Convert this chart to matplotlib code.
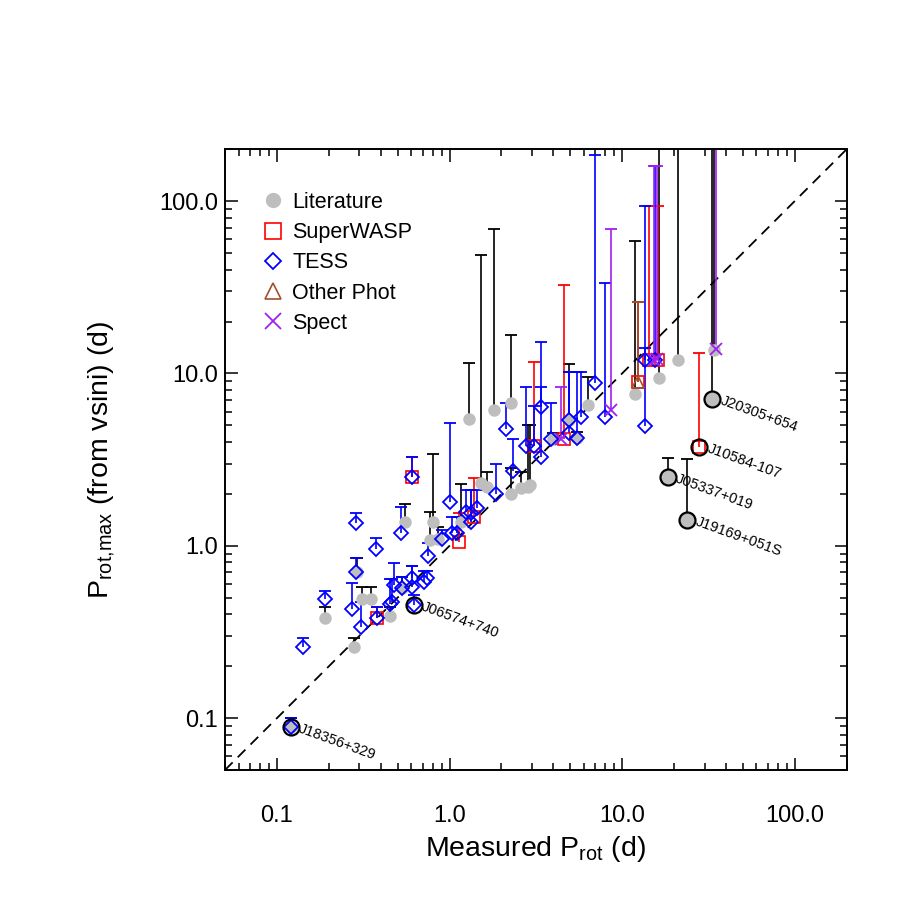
import matplotlib
matplotlib.use("Agg")
import matplotlib.pyplot as plt
from matplotlib.lines import Line2D
from matplotlib.ticker import FixedLocator, LogLocator, NullFormatter

plt.rcParams['font.family'] = ['Liberation Sans', 'DejaVu Sans']
plt.rcParams['mathtext.fontset'] = 'custom'
plt.rcParams['mathtext.rm'] = 'Liberation Sans'
plt.rcParams['mathtext.it'] = 'Liberation Sans'

# Literature: measured Prot, Prot,max, upper end of the limit bar
lit_x = [0.19, 0.28, 0.31, 0.35, 0.45, 0.29, 0.55, 0.53, 0.77, 0.80, 0.86, 1.17,
         1.29, 1.53, 1.64, 1.82, 2.26, 2.26, 2.58, 2.86, 2.92, 3.95, 4.9, 5.5,
         6.38, 11.8, 16.4, 21.2, 34.2, 0.12, 33.3, 18.5, 23.9]
lit_y = [0.38, 0.26, 0.49, 0.49, 0.39, 0.70, 1.38, 0.57, 1.08, 1.38, 1.10, 1.38,
         5.45, 2.32, 2.20, 6.14, 6.75, 2.00, 2.17, 2.20, 2.25, 4.17, 5.37, 4.20,
         6.57, 7.60, 9.40, 12.0, 13.7, 0.089, 7.10, 2.51, 1.42]
lit_up = [0.44, 0.29, 0.58, 0.58, 0.44, 0.85, 1.75, 0.66, 1.57, 3.40, 1.29, 2.29,
          11.5, 48.6, 2.69, 68.9, 16.7, 2.83, 2.69, 5.0, 5.0, 4.5, 11.3, 4.6,
          9.5, 58.6, 300, 300, 300, 0.10, 300, 3.24, 3.20]

# SuperWASP
wasp_x = [0.38, 0.61, 1.13, 1.38, 3.07, 4.63, 12.4, 14.4, 16.2, 28.0]
wasp_y = [0.38, 2.51, 1.05, 1.47, 3.80, 4.17, 8.93, 12.0, 12.0, 3.75]
wasp_up = [0.44, 3.28, 1.55, 2.48, 11.7, 32.6, 26.0, 93.5, 93.5, 13.1]

# TESS
tess_x = [0.12, 0.141, 0.191, 0.286, 0.286, 0.271, 0.305, 0.373, 0.378, 0.45,
          0.467, 0.474, 0.527, 0.52, 0.61, 0.61, 0.62, 0.61, 0.707, 0.737,
          0.755, 0.90, 1.0, 1.03, 1.10, 1.25, 1.34, 1.45, 1.34, 1.85,
          2.11, 2.32, 2.79, 3.07, 3.37, 3.41, 3.89, 4.95, 4.89, 5.44,
          5.74, 6.92, 8.0, 13.5, 13.5, 15.4]
tess_y = [0.089, 0.26, 0.49, 1.36, 0.70, 0.43, 0.34, 0.96, 0.38, 0.46,
          0.47, 0.59, 0.57, 1.19, 0.65, 0.58, 0.455, 2.51, 0.62, 0.65,
          0.875, 1.10, 1.80, 1.19, 1.19, 1.57, 1.55, 1.66, 1.38, 2.00,
          4.77, 2.72, 3.80, 3.80, 3.28, 6.40, 4.17, 5.37, 4.50, 4.23,
          5.60, 8.80, 5.60, 4.96, 12.0, 12.0]
tess_up = [0.10, 0.29, 0.55, 1.55, 0.85, 0.61, 0.47, 1.11, 0.44, 0.64,
           0.64, 0.79, 0.66, 1.68, 0.76, 0.76, 0.52, 3.28, 0.71, 0.71,
           1.04, 1.24, 5.16, 1.47, 1.47, 2.11, 2.11, 2.11, 2.11, 2.99,
           6.75, 4.17, 8.35, 6.5, 8.35, 15.2, 6.75, 10.2, 10.2, 10.2,
           10.2, 185, 33.5, 14.0, 93.5, 160]

# Other photometry
oth_x = [12.4]
oth_y = [8.93]
oth_up = [26.0]

# Spectroscopic
spec_x = [4.4, 8.67, 15.3, 16.0, 35.0]
spec_y = [4.17, 6.14, 12.0, 12.2, 13.9]
spec_up = [8.35, 68.9, 160, 160, 300]

# labelled stars
star_names = ["J18356+329", "J06574+740", "J20305+654", "J10584-107",
              "J05337+019", "J19169+051S"]
star_x = [0.12, 0.62, 33.3, 28.0, 18.5, 23.9]
star_y = [0.089, 0.455, 7.10, 3.75, 2.51, 1.42]

GRAY = '#bebebe'
BROWN = '#a0522d'
PURPLE = '#a020f0'


def limits(ax, x, y, up, color):
    ax.vlines(x, y, up, colors=color, lw=1.2, zorder=2)
    ax.plot(x, up, ls='none', marker='_', ms=9, mew=1.3, color=color, zorder=2)


fig = plt.figure(figsize=(9.13, 9.13), dpi=100)
ax = fig.add_axes([0.2464, 0.1566, 0.681, 0.680])
ax.set_xscale('log')
ax.set_yscale('log')
ax.set_xlim(0.05, 200)
ax.set_ylim(0.05, 200)

ax.plot([0.05, 200], [0.05, 200], color='black', lw=1.3, ls=(0, (6, 4)), zorder=1)

limits(ax, lit_x, lit_y, lit_up, 'black')
limits(ax, wasp_x, wasp_y, wasp_up, 'red')
limits(ax, tess_x, tess_y, tess_up, 'blue')
limits(ax, oth_x, oth_y, oth_up, BROWN)
limits(ax, spec_x, spec_y, spec_up, PURPLE)

ax.plot(lit_x, lit_y, ls='none', marker='o', ms=9, color=GRAY, mec='none', zorder=3)
ax.plot(star_x[2:3] + star_x[4:], star_y[2:3] + star_y[4:], ls='none', marker='o',
        ms=11.5, mfc=GRAY, mec='black', mew=1.6, zorder=3)
ax.plot(wasp_x, wasp_y, ls='none', marker='s', ms=8.5, mfc='none', mec='red',
        mew=1.2, zorder=4)
ax.plot(tess_x, tess_y, ls='none', marker='D', ms=7, mfc='none', mec='blue',
        mew=1.3, zorder=5)
ax.plot(oth_x, oth_y, ls='none', marker='^', ms=9, mfc='none', mec=BROWN,
        mew=1.2, zorder=5)
ax.plot(spec_x, spec_y, ls='none', marker='x', ms=9, color=PURPLE, mew=1.3, zorder=6)

ax.plot(star_x[:2] + star_x[3:4], star_y[:2] + star_y[3:4], ls='none', marker='o',
        ms=11.5, mfc='none', mec='black', mew=1.6, zorder=7)

for name, sx, sy in zip(star_names, star_x, star_y):
    ax.annotate(name, (sx, sy), xytext=(6, -1), textcoords='offset points',
                fontsize=10.5, rotation=-20, rotation_mode='anchor',
                ha='left', va='center', zorder=8)

handles = [
    Line2D([], [], ls='none', marker='o', ms=11, color=GRAY, mec='none'),
    Line2D([], [], ls='none', marker='s', ms=11, mfc='none', mec='red', mew=1.2),
    Line2D([], [], ls='none', marker='D', ms=8, mfc='none', mec='blue', mew=1.3),
    Line2D([], [], ls='none', marker='^', ms=12, mfc='none', mec=BROWN, mew=1.2),
    Line2D([], [], ls='none', marker='x', ms=11, color=PURPLE, mew=1.3),
]
ax.legend(handles, ['Literature', 'SuperWASP', 'TESS', 'Other Phot', 'Spect'],
          loc='upper left', bbox_to_anchor=(0.048, 0.945), frameon=False,
          fontsize=15.5, handlelength=0.9, handletextpad=0.45, labelspacing=0.43,
          borderaxespad=0)

ticks = [0.1, 1.0, 10.0, 100.0]
tick_labels = ['0.1', '1.0', '10.0', '100.0']
ax.xaxis.set_major_locator(FixedLocator(ticks))
ax.yaxis.set_major_locator(FixedLocator(ticks))
ax.xaxis.set_minor_locator(LogLocator(base=10, subs=range(2, 10)))
ax.yaxis.set_minor_locator(LogLocator(base=10, subs=range(2, 10)))
ax.xaxis.set_minor_formatter(NullFormatter())
ax.yaxis.set_minor_formatter(NullFormatter())
ax.set_xticklabels(tick_labels)
ax.set_yticklabels(tick_labels)

ax.tick_params(which='both', direction='in', top=True, right=True, width=1.1)
ax.tick_params(which='major', length=9, labelsize=17)
ax.tick_params(which='minor', length=5)
ax.tick_params(axis='x', which='major', pad=25)
ax.tick_params(axis='y', which='major', pad=5)
for sp in ax.spines.values():
    sp.set_linewidth(1.4)

ax.set_xlabel(r'Measured P$_{\mathrm{rot}}$ (d)', fontsize=20.5, labelpad=5)
ax.set_ylabel(r'P$_{\mathrm{rot{,}max}}$ (from vsini) (d)', fontsize=20.5,
              labelpad=30)

fig.savefig('out.png', dpi=100)
